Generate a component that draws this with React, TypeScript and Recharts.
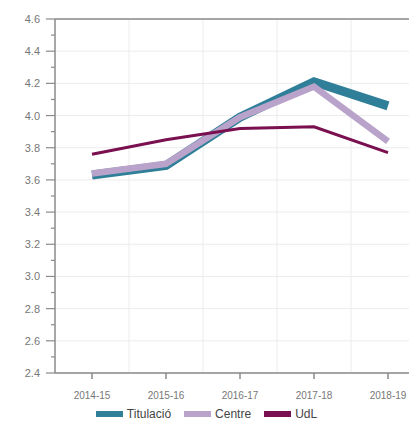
import React from "react";
import {
  LineChart,
  Line,
  XAxis,
  YAxis,
  CartesianGrid,
  Legend,
  ReferenceLine,
} from "recharts";

const years = ["2014-15", "2015-16", "2016-17", "2017-18", "2018-19"];
const titulacio = [3.63, 3.69, 3.99, 4.21, 4.06];
const centre = [3.64, 3.7, 3.99, 4.18, 3.84];
const udl = [3.76, 3.85, 3.92, 3.93, 3.77];

const majorTicks = [2.4, 2.6, 2.8, 3.0, 3.2, 3.4, 3.6, 3.8, 4.0, 4.2, 4.4, 4.6];
const minorTicks = [2.5, 2.7, 2.9, 3.1, 3.3, 3.5, 3.7, 3.9, 4.1, 4.3, 4.5];
const allTicks = [...majorTicks, ...minorTicks].sort((a, b) => a - b);

const series = [
  { key: "Titulació", values: titulacio, color: "#2f7f98", width: 9 },
  { key: "Centre", values: centre, color: "#b9a3ca", width: 6.5 },
  { key: "UdL", values: udl, color: "#7a1050", width: 3 },
];

const data = years.map((y, i) => {
  const row: Record<string, string | number> = { year: y };
  series.forEach((s) => (row[s.key] = s.values[i]));
  return row;
});

const FONT = "'Liberation Sans', Arial, sans-serif";
const AXIS = "#8a8a8a";

const YTick = (props: any) => {
  const { x, y, payload } = props;
  const major = majorTicks.some((t) => Math.abs(t - payload.value) < 1e-6);
  return (
    <g>
      <line x1={x - (major ? 9 : 4)} x2={x} y1={y} y2={y} stroke={AXIS} strokeWidth={1.2} />
      {major && (
        <text x={x - 15} y={y} dy={4} textAnchor="end" fontSize={11} fill="#777" fontFamily={FONT}>
          {payload.value.toFixed(1)}
        </text>
      )}
    </g>
  );
};

const LegendContent = () => (
  <div
    style={{
      display: "flex",
      justifyContent: "center",
      alignItems: "center",
      gap: 13,
      fontFamily: FONT,
      fontSize: 12,
      color: "#444",
      paddingRight: 12,
    }}
  >
    {series.map((s) => (
      <span key={s.key} style={{ display: "flex", alignItems: "center" }}>
        <span style={{ width: 27, height: 6, background: s.color, marginRight: 4 }} />
        {s.key}
      </span>
    ))}
  </div>
);

export default function App() {
  return (
    <div style={{ width: 417, height: 424, marginLeft: -8, marginTop: -8, overflow: "hidden", background: "#fff" }}>
      <LineChart width={430} height={424} data={data} margin={{ top: 19, right: 5, left: 0, bottom: 3 }}>
        <CartesianGrid
          stroke="#ececec"
          horizontalValues={majorTicks}
          verticalCoordinatesGenerator={({ offset }: any) =>
            years.map((_, i) => offset.left + ((i + 1) * offset.width) / years.length)
          }
        />
        <XAxis
          dataKey="year"
          scale="band"
          height={34}
          tickSize={6}
          tickMargin={13}
          stroke={AXIS}
          strokeWidth={1.5}
          tick={{ fontSize: 10, fill: "#777", fontFamily: FONT }}
          interval={0}
        />
        <YAxis
          width={55}
          domain={[2.4, 4.6]}
          ticks={allTicks}
          interval={0}
          tickSize={0}
          tickMargin={0}
          tickLine={false}
          stroke={AXIS}
          strokeWidth={1.5}
          tick={<YTick />}
        />
        <ReferenceLine y={4.6} stroke={AXIS} strokeWidth={1.5} />
        {series.map((s) => (
          <Line
            key={s.key}
            dataKey={s.key}
            stroke={s.color}
            strokeWidth={s.width}
            dot={false}
            type="linear"
            isAnimationActive={false}
          />
        ))}
        <Legend verticalAlign="bottom" wrapperStyle={{ height: 14 }} content={<LegendContent />} />
      </LineChart>
    </div>
  );
}
